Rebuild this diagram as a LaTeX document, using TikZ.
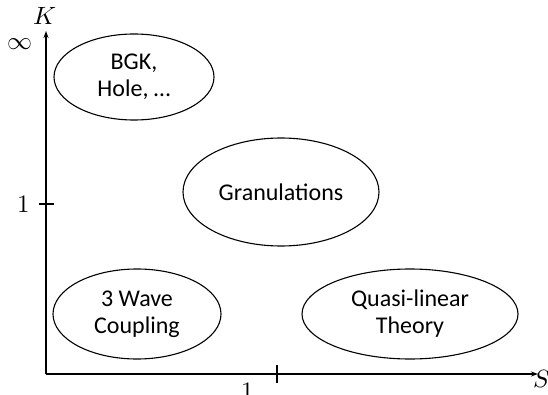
\documentclass[tikz,border=0pt]{standalone}
\usepackage{fontspec}
\setmainfont{Carlito}
\usepackage{unicode-math}
\setmathfont{Latin Modern Math}
\usetikzlibrary{arrows.meta,shapes.geometric}
\begin{document}
\begin{tikzpicture}[x=1pt,y=-1pt,
  axis/.style={line width=1.2pt,-{Stealth[length=7pt,width=5pt]}},
  region/.style={draw,ellipse,line width=1.1pt,inner sep=0pt},
  lbl/.style={font=\fontsize{24}{27}\selectfont,align=center},
  mlbl/.style={font=\fontsize{25}{27}\selectfont}]
\useasboundingbox (0,0) rectangle (548,395);
\coordinate (O) at (46,374);
\coordinate (Ktip) at (46,31);
\coordinate (Stip) at (538,374);
\draw[axis] (O) -- (Ktip);
\draw[axis] (O) -- (Stip);
\node[mlbl] (K) at (45,16) {$K$};
\node[mlbl] (S) at (542,379) {$S$};
\node[mlbl] (inf) at (20,44) {$\infty$};
\coordinate (ky1) at (39,204);
\coordinate (ky2) at (54,204);
\draw[line width=1.2pt] (ky1) -- (ky2);
\node[mlbl] (one1) at (24,204) {$1$};
\coordinate (kx1) at (277,365);
\coordinate (kx2) at (277,383);
\draw[line width=1.2pt] (kx1) -- (kx2);
\node[mlbl] (one2) at (248,391) {$1$};
\node[region,minimum width=160pt,minimum height=86pt] (bgk) at (134,77) {};
\node[lbl] (bgkt) at (bgk) {BGK,\\Hole, …};
\node[region,minimum width=196pt,minimum height=108pt] (gran) at (281,192) {};
\node[lbl] (grant) at (gran) {Granulations};
\node[region,minimum width=168pt,minimum height=90pt] (wave) at (137,314) {};
\node[lbl] (wavet) at (wave) {3 Wave\\Coupling};
\node[region,minimum width=216pt,minimum height=90pt] (ql) at (410,314) {};
\node[lbl] (qlt) at (ql) {Quasi-linear\\Theory};
\end{tikzpicture}
\end{document}
